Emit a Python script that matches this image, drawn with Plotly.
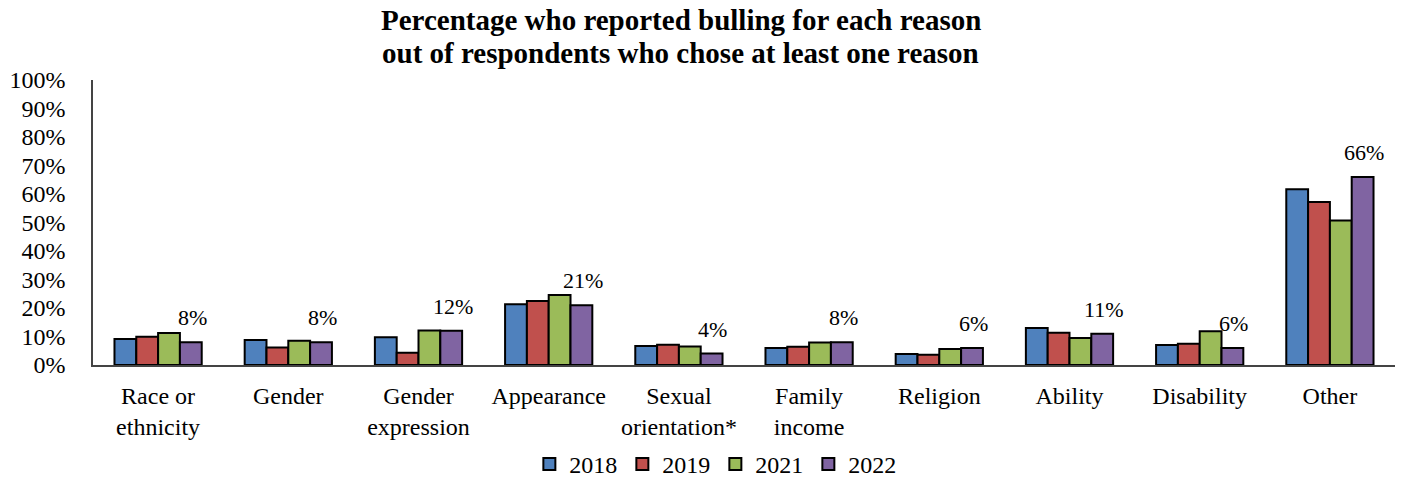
import plotly.graph_objects as go

categories = ["Race or<br>ethnicity", "Gender", "Gender<br>expression", "Appearance",
              "Sexual<br>orientation*", "Family<br>income", "Religion", "Ability",
              "Disability", "Other"]

y2018 = [9.1, 8.8, 9.7, 21.3, 6.7, 6.0, 3.9, 13.0, 7.0, 61.7]
y2019 = [9.9, 6.1, 4.3, 22.5, 7.1, 6.4, 3.6, 11.3, 7.5, 57.2]
y2021 = [11.2, 8.5, 12.1, 24.6, 6.5, 7.9, 5.6, 9.5, 11.8, 50.7]
y2022 = [8, 8, 12, 21, 4, 8, 6, 11, 6, 66]

series = [("2018", y2018, "#4F81BD"), ("2019", y2019, "#C0504D"),
          ("2021", y2021, "#9BBB59"), ("2022", y2022, "#8064A2")]

title_lines = ["Percentage who reported bulling for each reason",
               "out of respondents who chose at least one reason"]

FONT = "Liberation Serif, Times New Roman, serif"

fig = go.Figure()
for name, vals, color in series:
    fig.add_trace(go.Bar(
        x=categories, y=vals, name=name,
        marker=dict(color=color, line=dict(color="black", width=2)),
    ))

# value labels above the 2022 bars
for cat, v in zip(categories, y2022):
    fig.add_annotation(
        x=cat, y=v, xref="x", yref="y", text=f"{v:.0f}%", showarrow=False,
        xshift=34, yshift=10, yanchor="bottom",
        font=dict(family=FONT, size=22, color="black"),
    )

# two-line bold title
for txt, ypos in zip(title_lines, [1.2105, 1.0947]):
    fig.add_annotation(
        x=0.4516, y=ypos, xref="paper", yref="paper",
        text=f"<b>{txt}</b>", showarrow=False, yanchor="middle", xanchor="center",
        font=dict(family=FONT, size=29, color="black"),
    )

fig.update_layout(
    width=1403, height=487,
    margin=dict(l=93, r=8, t=80, b=122),
    paper_bgcolor="white", plot_bgcolor="white",
    barmode="group", bargap=0.33, bargroupgap=0,
    font=dict(family=FONT, size=24, color="black"),
    showlegend=True,
    legend=dict(orientation="h", x=0.478, xanchor="center",
                yref="container", y=-0.016, yanchor="bottom",
                font=dict(family=FONT, size=24), traceorder="normal"),
    xaxis=dict(showline=True, linecolor="#444", linewidth=1.5, showgrid=False,
               ticks="", ticklabelstandoff=8, automargin=False,
               tickfont=dict(family=FONT, size=24)),
    yaxis=dict(range=[0, 100], dtick=10, ticksuffix="%", showline=True,
               linecolor="#444", linewidth=1.5, showgrid=False, zeroline=False,
               ticks="", ticklabelstandoff=21, automargin=False,
               tickfont=dict(family=FONT, size=24)),
)

fig.write_html("out.html")
